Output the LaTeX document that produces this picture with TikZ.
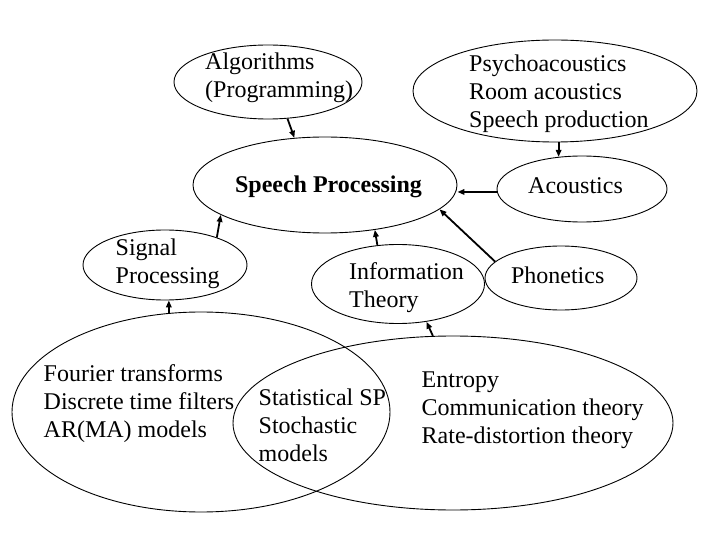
\documentclass[tikz,border=0pt]{standalone}
\usepackage{fontspec}
\setmainfont{Liberation Serif}
\usetikzlibrary{shapes.geometric,arrows.meta}
\begin{document}
\begin{tikzpicture}[x=1bp,y=-1bp,
  ell/.style={draw, ellipse, line width=0.9bp, inner sep=0pt},
  txt/.style={anchor=west, inner sep=0pt, align=left, font=\fontsize{24bp}{28bp}\selectfont},
  arr/.style={line width=1.8bp, -{Triangle[length=7bp,width=5.5bp]}}]
\useasboundingbox (0,0) rectangle (720,540);
% ellipses
\node[ell, minimum width=188bp, minimum height=74bp] (alg) at (268,82) {};
\node[ell, minimum width=284bp, minimum height=102bp] (psy) at (555,91) {};
\node[ell, minimum width=264bp, minimum height=96bp] (sp) at (325,185) {};
\node[ell, minimum width=170bp, minimum height=66bp] (ac) at (582,189) {};
\node[ell, minimum width=152bp, minimum height=64bp] (ph) at (561,278) {};
\node[ell, minimum width=164bp, minimum height=70bp] (sig) at (165,265) {};
\node[ell, minimum width=173bp, minimum height=79bp] (info) at (398,284) {};
\node[ell, minimum width=378bp, minimum height=200bp] (bigL) at (201,412) {};
\node[ell, minimum width=440bp, minimum height=174bp] (bigR) at (453,423) {};
% texts
\node[txt] (algT) at (205,78.4) {\strut Algorithms\\\strut (Programming)};
\node[txt] (psyT) at (469,93.9) {\strut Psychoacoustics\\\strut Room acoustics\\\strut Speech production};
\node[txt, anchor=base, font=\fontsize{24bp}{28bp}\selectfont\bfseries] (spT) at (328.5,193) {Speech Processing};
\node[txt, anchor=base] (acT) at (575.5,194) {Acoustics};
\node[txt, anchor=base] (phT) at (557.7,284) {Phonetics};
\node[txt] (sigT) at (115.5,263.6) {\strut Signal\\\strut Processing};
\node[txt] (infoT) at (349,288.1) {\strut Information\\\strut Theory};
\node[txt] (bigLT) at (43.5,404.1) {\strut Fourier transforms\\\strut Discrete time filters\\\strut AR(MA) models};
\node[txt] (statT) at (258.5,427.4) {\strut Statistical SP\\\strut Stochastic\\\strut models};
\node[txt] (bigRT) at (421.5,409.4) {\strut Entropy\\\strut Communication theory\\\strut Rate-distortion theory};
% connectors
\draw[arr] (alg.-62) -- (sp.123);
\draw[arr] (ac.126 |- psy.south) -- (ac.126);
\draw[arr] (ac.-178) -- (ac.-178 -| sp.east);
\draw[arr] (ph.166) -- (sp.-12.5);
\draw[arr] (sig.28) -- (sp.196.5);
\draw[arr] (info.118) -- (sp.-42.5);
\draw[arr] (bigL.108.4) -- (bigL.108.4 |- sig.south);
\draw[arr] (bigR.103.6) -- (info.-53);
\end{tikzpicture}
\end{document}
